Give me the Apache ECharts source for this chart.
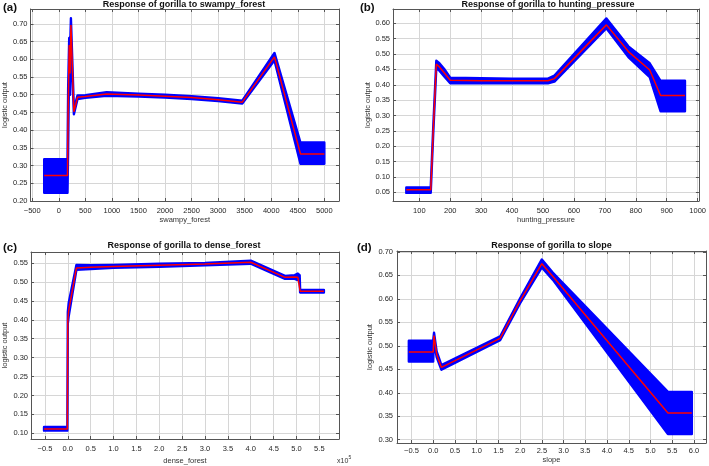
<!DOCTYPE html>
<html><head><meta charset="utf-8">
<script src="https://cdn.jsdelivr.net/npm/echarts@6/dist/echarts.min.js"></script>
<style>html,body{margin:0;padding:0;background:#fff}#c{width:709px;height:466px}</style>
</head><body><div id="c"></div>
<script>
// ---------- Panel (a): swampy_forest ----------
const aX     = [-275, 164, 176, 196, 212, 228, 284, 353, 500, 900, 1500, 2000, 2500, 3000, 3455, 4061, 4550, 5000];
const aMean  = [0.272, 0.272, 0.46, 0.64, 0.56, 0.697, 0.452, 0.493, 0.495, 0.502, 0.499, 0.496, 0.492, 0.486, 0.479, 0.607, 0.333, 0.333];
const aUpper = [0.318, 0.318, 0.52, 0.66, 0.62, 0.716, 0.460, 0.498, 0.499, 0.507, 0.503, 0.500, 0.496, 0.490, 0.483, 0.618, 0.365, 0.365];
const aLower = [0.2235, 0.2235, 0.35, 0.60, 0.50, 0.67, 0.445, 0.488, 0.491, 0.497, 0.495, 0.492, 0.488, 0.482, 0.475, 0.597, 0.305, 0.305];
const aXTicks = [-500, 0, 500, 1000, 1500, 2000, 2500, 3000, 3500, 4000, 4500, 5000];
const aYTicks = [0.20, 0.25, 0.30, 0.35, 0.40, 0.45, 0.50, 0.55, 0.60, 0.65, 0.70];

// ---------- Panel (b): hunting_pressure ----------
const bX     = [58, 137, 145, 155, 163, 180, 200, 300, 400, 516, 537, 705, 776, 845, 880, 959];
const bMean  = [0.058, 0.058, 0.25, 0.467, 0.460, 0.440, 0.415, 0.413, 0.413, 0.413, 0.420, 0.595, 0.508, 0.448, 0.365, 0.365];
const bUpper = [0.066, 0.066, 0.26, 0.478, 0.472, 0.452, 0.423, 0.421, 0.420, 0.420, 0.430, 0.616, 0.525, 0.470, 0.413, 0.413];
const bLower = [0.048, 0.048, 0.24, 0.455, 0.448, 0.428, 0.405, 0.405, 0.405, 0.405, 0.410, 0.584, 0.490, 0.425, 0.314, 0.314];
const bXTicks = [100, 200, 300, 400, 500, 600, 700, 800, 900, 1000];
const bYTicks = [0.05, 0.10, 0.15, 0.20, 0.25, 0.30, 0.35, 0.40, 0.45, 0.50, 0.55, 0.60];

// ---------- Panel (c): dense_forest ----------
const cX     = [-52000, -1000, 0, 2000, 18800, 50000, 100000, 200000, 300000, 400000, 475000, 496000, 503000, 507000, 508000, 560000];
const cMean  = [0.1114, 0.1114, 0.40, 0.425, 0.537, 0.539, 0.541, 0.544, 0.547, 0.552, 0.512, 0.513, 0.512, 0.510, 0.4754, 0.4754];
const cUpper = [0.117, 0.117, 0.42, 0.445, 0.545, 0.544, 0.545, 0.548, 0.550, 0.556, 0.516, 0.518, 0.522, 0.518, 0.479, 0.479];
const cLower = [0.107, 0.107, 0.39, 0.410, 0.532, 0.534, 0.537, 0.540, 0.544, 0.548, 0.508, 0.508, 0.505, 0.505, 0.472, 0.472];
const cXTicks = [-50000, 0, 50000, 100000, 150000, 200000, 250000, 300000, 350000, 400000, 450000, 500000, 550000];
const cYTicks = [0.10, 0.15, 0.20, 0.25, 0.30, 0.35, 0.40, 0.45, 0.50, 0.55];

// ---------- Panel (d): slope ----------
const dX     = [-0.56, 0.0, 0.02, 0.08, 0.19, 1.54, 2.0, 2.5, 2.75, 5.4, 5.95];
const dMean  = [0.487, 0.487, 0.522, 0.482, 0.454, 0.516, 0.596, 0.675, 0.648, 0.357, 0.357];
const dUpper = [0.511, 0.511, 0.528, 0.488, 0.459, 0.520, 0.601, 0.684, 0.656, 0.402, 0.402];
const dLower = [0.4664, 0.4664, 0.512, 0.476, 0.449, 0.512, 0.591, 0.667, 0.641, 0.312, 0.312];
const dXTicks = [-0.5, 0.0, 0.5, 1.0, 1.5, 2.0, 2.5, 3.0, 3.5, 4.0, 4.5, 5.0, 5.5, 6.0];
const dYTicks = [0.30, 0.35, 0.40, 0.45, 0.50, 0.55, 0.60, 0.65, 0.70];

const FONT = '"Liberation Sans", Arial, Helvetica, sans-serif';
const minus = s => s.replace('-', '\u2212');

const panels = [
  {X:aX, M:aMean, U:aUpper, L:aLower, xt:aXTicks, yt:aYTicks, title:'Response of gorilla to swampy_forest', xname:'swampy_forest', letter:'(a)',
   grid:{left:29, top:9, width:310, height:192}, xr:[-533, 5276], yr:[0.20, 0.742],
   xfmt:v=>minus(String(Math.round(v))), lblMargin:6, xGap:13, yGap:20, yLblMargin:3, titleY:0, letterPos:[3,2]},
  {X:bX, M:bMean, U:bUpper, L:bLower, xt:bXTicks, yt:bYTicks, title:'Response of gorilla to hunting_pressure', xname:'hunting_pressure', letter:'(b)',
   grid:{left:393, top:9, width:310, height:192}, xr:[15, 1004], yr:[0.0217, 0.6466],
   xfmt:v=>String(Math.round(v)), lblMargin:6, xGap:15, yGap:21, yLblMargin:3, titleY:0, letterPos:[360,2]},
  {X:cX, M:cMean, U:cUpper, L:cLower, xt:cXTicks, yt:cYTicks, title:'Response of gorilla to dense_forest', xname:'dense_forest', letter:'(c)',
   grid:{left:29, top:252, width:310, height:187}, xr:[-80500, 593000], yr:[0.085, 0.579],
   xfmt:v=>minus((v/1e5).toFixed(1)), lblMargin:6, xGap:18, yGap:22, yLblMargin:3, titleY:241.5, letterPos:[3,241.5]},
  {X:dX, M:dMean, U:dUpper, L:dLower, xt:dXTicks, yt:dYTicks, title:'Response of gorilla to slope', xname:'slope', letter:'(d)',
   grid:{left:397, top:251, width:309, height:192}, xr:[-0.832, 6.276], yr:[0.293, 0.702],
   xfmt:v=>minus(v.toFixed(1)), lblMargin:4, xGap:12, yGap:23, yLblMargin:4, titleY:241, letterPos:[357,241.5]}
];

const axisCol = '#555';
const gridCol = '#d6d6d6';
const labelStyle = {fontSize:7.5, color:'#262626', fontFamily:FONT};

const grids = [], xAxes = [], yAxes = [], series = [], graphics = [];
panels.forEach((p, i) => {
  grids.push(Object.assign({containLabel:false}, p.grid));
  // bottom x
  xAxes.push({type:'value', gridIndex:i, position:'bottom', min:p.xr[0], max:p.xr[1],
    name:p.xname, nameLocation:'middle', nameGap:p.xGap,
    nameTextStyle:{fontSize:7.5, color:'#333', fontFamily:FONT},
    axisLine:{show:true, onZero:false, lineStyle:{color:axisCol, width:1}},
    axisTick:{show:true, inside:true, length:3, customValues:p.xt, lineStyle:{color:axisCol}},
    axisLabel:Object.assign({show:true, margin:p.lblMargin, customValues:p.xt, formatter:p.xfmt, showMinLabel:true, showMaxLabel:true}, labelStyle),
    splitLine:{show:true, lineStyle:{color:gridCol, width:1}}});
  // top x (box)
  xAxes.push({type:'value', gridIndex:i, position:'top', min:p.xr[0], max:p.xr[1],
    axisLine:{show:true, onZero:false, lineStyle:{color:axisCol, width:1}},
    axisTick:{show:true, inside:true, length:3, customValues:p.xt, lineStyle:{color:axisCol}},
    axisLabel:{show:false}, splitLine:{show:false}});
  // left y
  yAxes.push({type:'value', gridIndex:i, position:'left', min:p.yr[0], max:p.yr[1],
    name:'logistic output', nameLocation:'middle', nameGap:p.yGap, nameRotate:90,
    nameTextStyle:{fontSize:7.5, color:'#333', fontFamily:FONT},
    axisLine:{show:true, onZero:false, lineStyle:{color:axisCol, width:1}},
    axisTick:{show:true, inside:true, length:3, customValues:p.yt, lineStyle:{color:axisCol}},
    axisLabel:Object.assign({show:true, margin:p.yLblMargin, customValues:p.yt, formatter:v=>v.toFixed(2)}, labelStyle),
    splitLine:{show:true, lineStyle:{color:gridCol, width:1}}});
  // right y (box)
  yAxes.push({type:'value', gridIndex:i, position:'right', min:p.yr[0], max:p.yr[1],
    axisLine:{show:true, onZero:false, lineStyle:{color:axisCol, width:1}},
    axisTick:{show:true, inside:true, length:3, customValues:p.yt, lineStyle:{color:axisCol}},
    axisLabel:{show:false}, splitLine:{show:false}});

  // band polygon (mean +/- sd) through the axis scales
  series.push({type:'custom', xAxisIndex:2*i, yAxisIndex:2*i, silent:true, z:2,
    data:[[p.X[0], p.L[0]]],
    renderItem:(params, api) => {
      const pts = [];
      for (let k = 0; k < p.X.length; k++) pts.push(api.coord([p.X[k], p.U[k]]));
      for (let k = p.X.length - 1; k >= 0; k--) pts.push(api.coord([p.X[k], p.L[k]]));
      return {type:'polygon', shape:{points:pts},
        style:{fill:'#0000ff', stroke:'#0000ff', lineWidth:2.4, lineJoin:'round'}};
    }});
  // mean line
  series.push({type:'line', xAxisIndex:2*i, yAxisIndex:2*i, z:3, symbol:'none', silent:true,
    data:p.X.map((x, k) => [x, p.M[k]]),
    lineStyle:{color:'#ff0000', width:1.5}, itemStyle:{color:'#ff0000'}});

  const cx = p.grid.left + p.grid.width / 2;
  graphics.push({type:'text', x:cx, y:p.titleY, silent:true,
    style:{text:p.title, align:'center', verticalAlign:'top', fill:'#111',
      fontSize:9, fontWeight:'bold', fontFamily:FONT}});
  graphics.push({type:'text', x:p.letterPos[0], y:p.letterPos[1], silent:true,
    style:{text:p.letter, align:'left', verticalAlign:'top', fill:'#111',
      fontSize:11.5, fontWeight:'bold', fontFamily:FONT}});
});
// exponent label for panel (c)
graphics.push({type:'text', x:337, y:458, silent:true,
  style:{text:'x10', align:'left', verticalAlign:'top', fill:'#333', fontSize:7, fontFamily:FONT}});
graphics.push({type:'text', x:348.5, y:455, silent:true,
  style:{text:'5', align:'left', verticalAlign:'top', fill:'#333', fontSize:5, fontFamily:FONT}});

const chart = echarts.init(document.getElementById('c'), null, {renderer:'canvas'});
chart.setOption({
  animation:false,
  backgroundColor:'#ffffff',
  grid:grids, xAxis:xAxes, yAxis:yAxes, series:series, graphic:graphics
});
</script>
</body></html>
